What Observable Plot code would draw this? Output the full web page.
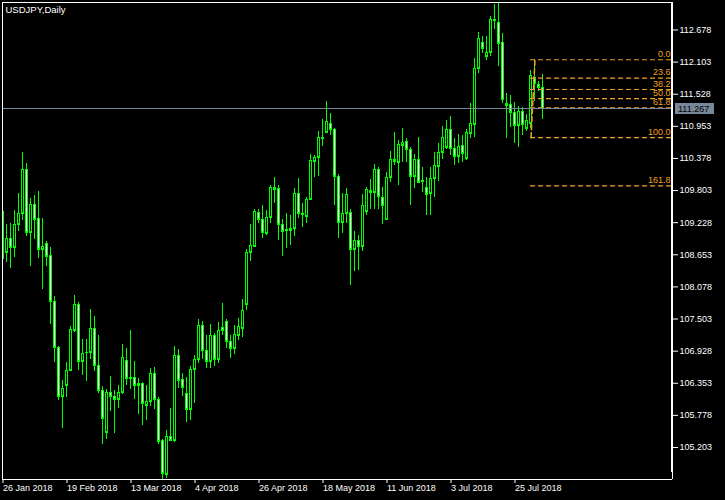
<!DOCTYPE html>
<html>
<head>
<meta charset="utf-8">
<script src="https://cdn.jsdelivr.net/npm/d3@7"></script>
<script src="https://cdn.jsdelivr.net/npm/@observablehq/plot@0.6"></script>
<style>
  html, body { margin: 0; padding: 0; background: #000; }
</style>
</head>
<body>
<div id="chart"></div>
<script>
// USDJPY daily candles, one bar per weekday starting 26 Jan 2018
const symbol = "USDJPY,Daily";
const firstBar = "2018-01-26";

const open = [
  109.42, 108.69, 108.94, 108.78, 109.19, 109.39, 110.18, 109.06, 109.55, 109.30,
  108.75, 108.85, 108.64, 107.82, 107.00, 106.11, 106.32, 106.58, 107.30, 107.77,
  106.74, 106.90, 106.90, 107.33, 106.67, 106.23, 105.48, 106.19, 106.12, 106.06,
  106.18, 106.76, 106.43, 106.46, 106.31, 106.35, 105.95, 106.02, 106.53, 106.07,
  105.32, 104.72, 105.40, 105.32, 106.85, 106.42, 106.17, 105.88, 106.60, 106.78,
  107.39, 106.94, 106.75, 107.20, 106.78, 107.36, 107.46, 107.10, 106.98, 107.21,
  107.34, 107.76, 108.69, 108.81, 109.41, 109.28, 109.04, 109.32, 109.83, 109.84,
  109.19, 109.09, 109.09, 109.12, 109.75, 109.39, 109.33, 109.64, 110.33, 110.39,
  110.74, 110.85, 111.01, 110.90, 110.06, 109.24, 109.40, 109.41, 108.74, 108.91,
  108.80, 109.43, 109.77, 109.76, 110.18, 109.68, 109.29, 110.03, 110.33, 110.31,
  110.61, 110.68, 110.53, 110.05, 110.36, 109.96, 109.86, 109.75, 110.02, 110.24,
  110.49, 110.58, 110.89, 110.55, 110.42, 110.61, 110.37, 110.82, 110.99, 111.98,
  112.45, 112.20, 112.27, 112.84, 112.82, 112.45, 111.36, 111.35, 111.20, 110.96,
  111.21, 110.92, 111.00, 111.82, 111.70, 111.64
];
const high = [
  109.75, 109.20, 109.22, 109.45, 109.75, 110.49, 110.28, 109.66, 109.72, 109.79,
  109.30, 108.90, 108.79, 107.91, 107.02, 106.41, 106.73, 107.37, 107.92, 107.79,
  107.14, 107.14, 107.68, 107.54, 107.21, 106.30, 106.25, 106.48, 106.23, 106.32,
  107.05, 106.98, 107.30, 106.75, 106.43, 106.37, 106.32, 106.61, 106.64, 106.09,
  105.34, 105.50, 105.91, 107.02, 106.95, 106.53, 106.46, 106.65, 106.85, 107.50,
  107.46, 107.21, 107.41, 107.24, 107.44, 107.78, 107.50, 107.21, 107.39, 107.52,
  107.86, 108.75, 109.20, 109.47, 109.47, 109.54, 109.45, 109.90, 110.04, 109.90,
  109.28, 109.39, 109.36, 109.84, 110.02, 109.57, 109.68, 110.45, 110.43, 110.86,
  111.08, 111.40, 111.18, 110.92, 110.09, 109.75, 109.84, 109.47, 109.07, 109.00,
  109.74, 109.86, 110.00, 110.27, 110.22, 109.86, 110.13, 110.50, 110.84, 110.70,
  110.92, 110.74, 110.58, 110.45, 110.76, 110.22, 110.04, 110.22, 110.49, 110.65,
  110.95, 111.06, 111.13, 110.73, 110.80, 110.79, 110.89, 111.37, 112.17, 112.63,
  112.56, 112.56, 112.92, 113.13, 113.17, 112.62, 111.54, 111.51, 111.38, 111.30,
  111.29, 111.16, 111.95, 112.15, 111.75, 111.88
];
const low = [
  108.28, 108.51, 108.40, 108.60, 109.07, 109.27, 108.98, 108.45, 108.92, 108.58,
  108.04, 108.44, 107.40, 106.72, 106.04, 105.54, 106.09, 106.56, 107.27, 106.59,
  106.50, 106.38, 106.77, 106.56, 106.17, 105.25, 105.34, 105.84, 105.45, 105.90,
  106.15, 106.31, 106.25, 106.06, 105.79, 105.59, 105.68, 105.93, 105.88, 105.25,
  104.63, 104.64, 105.32, 105.30, 106.26, 106.11, 105.65, 105.68, 105.99, 106.70,
  106.77, 106.61, 106.61, 106.65, 106.71, 107.21, 106.98, 106.80, 106.86, 107.12,
  107.18, 107.65, 108.54, 108.78, 109.21, 108.95, 109.00, 109.22, 109.58, 108.91,
  108.63, 108.76, 108.82, 108.98, 109.31, 109.15, 109.21, 109.62, 110.03, 110.06,
  110.60, 110.82, 110.78, 109.54, 108.95, 109.04, 109.22, 108.11, 108.35, 108.38,
  108.72, 109.36, 109.47, 109.47, 109.47, 109.19, 109.29, 109.95, 110.25, 109.90,
  110.30, 110.30, 109.54, 109.84, 109.93, 109.77, 109.36, 109.36, 109.67, 109.96,
  110.36, 110.54, 110.43, 110.26, 110.28, 110.30, 110.34, 110.74, 110.76, 111.89,
  112.26, 112.13, 112.20, 112.69, 112.03, 111.37, 110.74, 110.93, 110.65, 110.58,
  110.78, 110.86, 110.92, 111.39, 111.58, 111.08
];
const close = [
  108.58, 108.94, 108.78, 109.19, 109.39, 110.18, 109.06, 109.55, 109.29, 108.75,
  108.80, 108.63, 107.81, 106.99, 106.11, 106.26, 106.59, 107.32, 107.77, 106.74,
  106.89, 106.90, 107.33, 106.67, 106.22, 105.73, 106.19, 106.11, 106.06, 106.19,
  106.81, 106.44, 106.46, 106.31, 106.34, 105.99, 106.03, 106.53, 106.06, 105.31,
  104.74, 105.40, 105.33, 106.85, 106.41, 106.27, 105.88, 106.60, 106.78, 107.39,
  106.94, 106.75, 107.20, 106.78, 107.30, 107.29, 107.10, 106.98, 107.23, 107.37,
  107.66, 108.69, 108.82, 109.43, 109.29, 109.05, 109.32, 109.85, 109.85, 109.19,
  109.07, 109.11, 109.13, 109.75, 109.39, 109.38, 109.65, 110.34, 110.40, 110.76,
  110.76, 111.04, 110.89, 110.06, 109.24, 109.39, 109.73, 108.74, 108.91, 108.80,
  109.53, 109.83, 109.80, 110.18, 109.69, 109.54, 110.03, 110.36, 110.36, 110.63,
  110.67, 110.53, 110.05, 110.36, 109.94, 109.99, 109.73, 110.02, 110.25, 110.49,
  110.75, 110.89, 110.55, 110.42, 110.59, 110.46, 110.84, 111.00, 111.98, 112.52,
  112.34, 112.28, 112.87, 112.87, 112.43, 111.44, 111.33, 111.20, 110.96, 111.22,
  110.99, 111.06, 111.86, 111.72, 111.64, 111.267
];

// price axis and time axis labels
const yTicks = [105.203, 105.778, 106.353, 106.928, 107.503, 108.078, 108.653,
                109.228, 109.803, 110.378, 110.953, 111.528, 112.103, 112.678];
const xTickLabels = ["26 Jan 2018", "19 Feb 2018", "13 Mar 2018", "4 Apr 2018",
                     "26 Apr 2018", "18 May 2018", "11 Jun 2018", "3 Jul 2018", "25 Jul 2018"];

// Fibonacci retracement drawn from the 31 Jul swing
const fibHigh = 112.145, fibLow = 110.75;
const fibHighBar = 133, fibLowBar = 132;
const fibLevels = [0, 23.6, 38.2, 50, 61.8, 100, 161.8];
const fibLabels = ["0.0", "23.6", "38.2", "50.0", "61.8", "100.0", "161.8"];

const green = "#00ff00";
const orange = "#f0a020";
const bidColor = "#778899";
const font = "'Liberation Sans', Arial, sans-serif";

// trading-day calendar for the bars
const dates = [];
for (let d = new Date(firstBar + "T00:00Z"); dates.length < open.length; d = new Date(+d + 864e5)) {
  const wd = d.getUTCDay();
  if (wd !== 0 && wd !== 6) dates.push(d);
}
const fmt = d3.utcFormat("%-d %b %Y");

const bars = open.map((o, i) => ({
  i, date: dates[i], open: o, high: high[i], low: low[i], close: close[i], bear: o > close[i]
}));
const xTicks = xTickLabels.map(label => ({i: dates.findIndex(d => fmt(d) === label), label}));
const fib = fibLevels.map((lv, k) => ({price: fibHigh - (fibHigh - fibLow) * lv / 100, label: fibLabels[k]}));

const W = 725, H = 500;
const mL = 2, mR = 53, mT = 2, mB = 21;
const barPx = 4;                         // horizontal spacing of bars
const xMin = -0.125;
const xMax = xMin + (W - mL - mR) / barPx;
const yMin = d3.min(low), yMax = d3.max(high);
const lastClose = close[close.length - 1];
const unitsPerPx = (yMax - yMin) / (H - mT - mB);
const crisp = {shapeRendering: "crispEdges"};

const chart = Plot.plot({
  width: W, height: H,
  marginLeft: mL, marginRight: mR, marginTop: mT, marginBottom: mB,
  style: {background: "#000", color: "#fff", fontFamily: font, fontSize: "9px"},
  x: {domain: [xMin, xMax], axis: "bottom", ticks: xTicks.map(d => d.i), tickFormat: () => "", tickSize: 4, label: null},
  y: {domain: [yMin, yMax], axis: "right", ticks: yTicks, tickFormat: d3.format(".3f"), tickSize: 5, tickPadding: 2, label: null},
  marks: [
    // candles
    Plot.ruleX(bars, {x: "i", y1: "low", y2: "high", stroke: green, dx: -0.5, clip: true, ...crisp}),
    Plot.rect(bars, {x1: d => d.i - 0.375, x2: d => d.i + 0.375, y1: "open", y2: "close", fill: green, clip: true, ...crisp}),
    Plot.rect(bars, {x1: d => d.i - 0.125, x2: d => d.i + 0.125, y1: "open", y2: "close",
                     insetTop: 1, insetBottom: 1, fill: d => d.bear ? "#ffffff" : "#000000", clip: true, ...crisp}),
    Plot.ruleY(bars, {y: "open", x1: d => d.i - 0.375, x2: d => d.i + 0.375, stroke: green, clip: true, ...crisp}),
    Plot.ruleY(bars, {y: "close", x1: d => d.i - 0.375, x2: d => d.i + 0.375, stroke: green, clip: true, ...crisp}),

    // Fibonacci levels
    Plot.ruleY(fib, {y: "price", x1: fibLowBar, x2: xMax, dx: -0.5, stroke: orange, strokeOpacity: 1,
                     strokeWidth: 1.2, strokeDasharray: "5,3"}),
    Plot.line([{i: fibLowBar, p: fibLow}, {i: fibHighBar, p: fibHigh}],
              {x: "i", y: "p", stroke: orange, strokeDasharray: "5,3"}),
    Plot.text(fib, {x: xMax, y: "price", text: "label", textAnchor: "end", lineAnchor: "bottom",
                    dx: -2, dy: -3, fill: orange}),

    // bid line
    Plot.ruleY([lastClose], {stroke: bidColor, ...crisp}),

    // chart frame
    Plot.ruleX([xMin], {stroke: "#fff", ...crisp}),
    Plot.ruleY([yMax], {stroke: "#fff", ...crisp}),
    Plot.ruleY([yMin], {stroke: "#fff", ...crisp}),
    Plot.ruleX([xMax], {y1: yMax, y2: yMin + 7 * unitsPerPx, stroke: "#fff", strokeWidth: 2, dx: -0.5, ...crisp}),
    Plot.ruleX([xMax], {stroke: "#fff", ...crisp}),

    // time labels
    Plot.text(xTicks, {x: "i", text: "label", frameAnchor: "bottom", lineAnchor: "top",
                       textAnchor: "start", dy: 5, fill: "#fff"}),
    // symbol title
    Plot.text([symbol], {frameAnchor: "top-left", dx: 3, dy: 4, lineAnchor: "top", fill: "#fff", fontSize: 9.5})
  ]
});

document.getElementById("chart").appendChild(chart);

// current price tag on the price axis
const ys = chart.scale("y");
const xs = chart.scale("x");
const yPos = Math.round(ys.apply(lastClose));
const tagX = xs.range[1] + 3;
const svg = d3.select(chart);
svg.append("rect")
  .attr("x", tagX).attr("y", yPos - 5)
  .attr("width", 39).attr("height", 11)
  .attr("fill", bidColor);
svg.append("text")
  .attr("x", tagX + 3).attr("y", yPos + 0.5)
  .attr("dy", "0.35em")
  .attr("text-anchor", "start")
  .attr("fill", "#000")
  .attr("font-family", font)
  .attr("font-size", 9)
  .text(d3.format(".3f")(lastClose));
</script>
</body>
</html>
